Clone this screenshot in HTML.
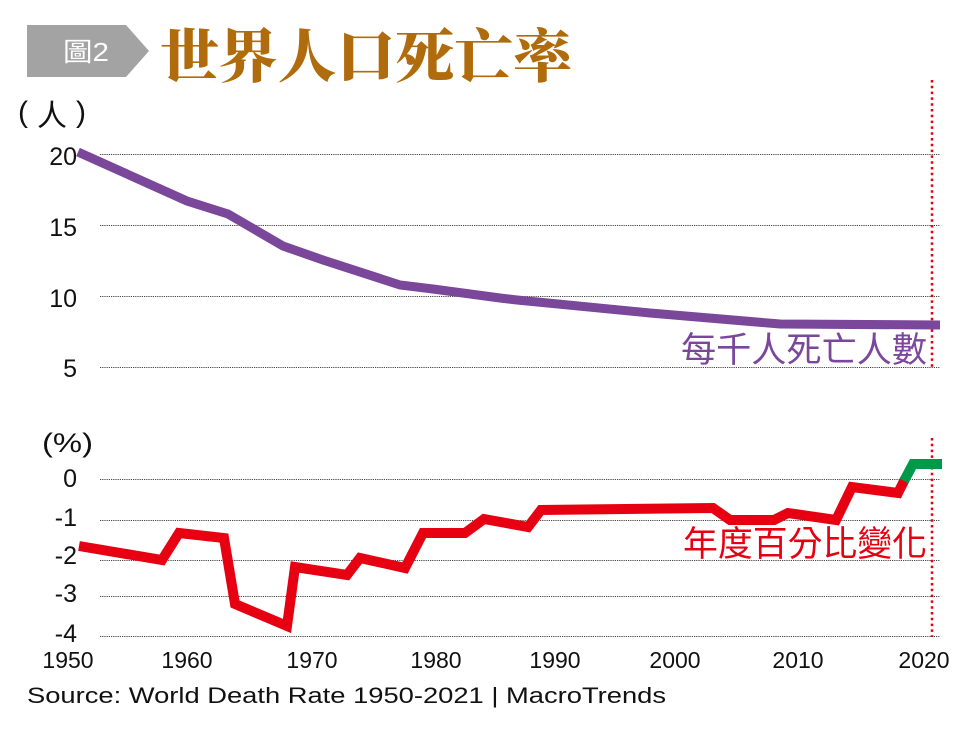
<!DOCTYPE html>
<html>
<head>
<meta charset="utf-8">
<style>
  html, body { margin: 0; padding: 0; background: #ffffff; }
  body { width: 974px; height: 742px; overflow: hidden; }
  svg { display: block; }
  .tick { font-family: "Liberation Sans", Arial, sans-serif; font-size: 23px; fill: #111; }
  .ytick { font-family: "Liberation Sans", Arial, sans-serif; font-size: 25px; fill: #111; }
  .cjk { font-family: "Liberation Sans", "Noto Sans CJK TC", "Noto Sans CJK SC", sans-serif; }
</style>
</head>
<body>
<svg width="974" height="742" viewBox="0 0 974 742" xmlns="http://www.w3.org/2000/svg">
  <rect x="0" y="0" width="974" height="742" fill="#ffffff"/>

  <!-- Title badge -->
  <polygon points="27,25 126,25 149,51 126,77 27,77" fill="#a3a3a3"/>
  <text x="63" y="61" class="cjk" font-size="26" fill="#ffffff" textLength="46" lengthAdjust="spacingAndGlyphs">圖2</text>

  <!-- Title -->
  <text x="160" y="77" font-family="'Liberation Serif', 'Noto Serif CJK SC', serif" font-weight="900" font-size="58" fill="#b06c0c" textLength="412" lengthAdjust="spacingAndGlyphs">世界人口死亡率</text>

  <!-- Unit labels -->
  <text x="18" y="122" font-family="'Liberation Sans', Arial, sans-serif" font-size="30" fill="#111">(</text>
  <text x="52" y="126" class="cjk" font-size="30" fill="#111" text-anchor="middle">人</text>
  <text x="76" y="122" font-family="'Liberation Sans', Arial, sans-serif" font-size="30" fill="#111">)</text>
  <text x="42" y="452" class="cjk" font-size="27" fill="#111" textLength="51" lengthAdjust="spacingAndGlyphs">(%)</text>

  <!-- Upper gridlines -->
  <g stroke="#444" stroke-width="1" stroke-dasharray="1.2 1">
    <line x1="100" y1="154.5" x2="940" y2="154.5"/>
    <line x1="100" y1="225.5" x2="940" y2="225.5"/>
    <line x1="100" y1="296.5" x2="940" y2="296.5"/>
    <line x1="100" y1="367.5" x2="940" y2="367.5"/>
  </g>
  <!-- Lower gridlines -->
  <g stroke="#444" stroke-width="1" stroke-dasharray="1.2 1">
    <line x1="100" y1="479.5" x2="940" y2="479.5"/>
    <line x1="100" y1="520.5" x2="940" y2="520.5"/>
    <line x1="100" y1="560.5" x2="940" y2="560.5"/>
    <line x1="100" y1="596.5" x2="940" y2="596.5"/>
    <line x1="100" y1="636.5" x2="940" y2="636.5"/>
  </g>

  <!-- Upper y ticks -->
  <g class="ytick" text-anchor="end">
    <text x="77" y="165">20</text>
    <text x="77" y="236">15</text>
    <text x="77" y="307">10</text>
    <text x="77" y="377">5</text>
  </g>
  <!-- Lower y ticks -->
  <g class="ytick" text-anchor="end" font-size="24">
    <text x="77" y="487">0</text>
    <text x="77" y="526">-1</text>
    <text x="77" y="564">-2</text>
    <text x="77" y="602">-3</text>
    <text x="77" y="642">-4</text>
  </g>

  <!-- Red dotted vertical lines (2020) -->
  <g stroke="#e60012" stroke-width="2.5" stroke-dasharray="2.5 3.3">
    <line x1="932" y1="80" x2="932" y2="370"/>
    <line x1="932" y1="438" x2="932" y2="637"/>
  </g>

  <!-- Purple series -->
  <polyline fill="none" stroke="#7b479b" stroke-width="9" stroke-linejoin="miter"
    points="78,152 187,201 228,214 283,246 323,260 400,285 433,289 500,298 517,300 650,313 780,324 940,325"/>

  <!-- Red series -->
  <polyline fill="none" stroke="#e60012" stroke-width="10" stroke-linejoin="miter" stroke-miterlimit="6"
    points="79,546 162,560 179,533 224,538 235,604 287,626 295,567 347,575 360,558 405,568 423,533 465,533 484,519 528,527 541,510 713,508 730,520 774,520 788,513 836,520 852,487 898,493 905,479"/>
  <!-- Green series -->
  <polyline fill="none" stroke="#00994a" stroke-width="10" stroke-linejoin="miter"
    points="904,481 913,464 942,464"/>

  <!-- Series labels -->
  <text x="927" y="362" class="cjk" font-size="35" fill="#7b479b" text-anchor="end" textLength="246" lengthAdjust="spacingAndGlyphs">每千人死亡人數</text>
  <text x="927" y="556" class="cjk" font-size="35" fill="#e60012" text-anchor="end" textLength="244" lengthAdjust="spacingAndGlyphs">年度百分比變化</text>

  <!-- X labels -->
  <g class="tick" text-anchor="middle">
    <text x="68" y="668">1950</text>
    <text x="187" y="668">1960</text>
    <text x="312" y="668">1970</text>
    <text x="436" y="668">1980</text>
    <text x="555" y="668">1990</text>
    <text x="675" y="668">2000</text>
    <text x="798" y="668">2010</text>
    <text x="924" y="668">2020</text>
  </g>

  <!-- Source -->
  <text x="27" y="703" font-family="'Liberation Sans', Arial, sans-serif" font-size="22" fill="#111" textLength="639" lengthAdjust="spacingAndGlyphs">Source: World Death Rate 1950-2021 | MacroTrends</text>
</svg>
</body>
</html>
